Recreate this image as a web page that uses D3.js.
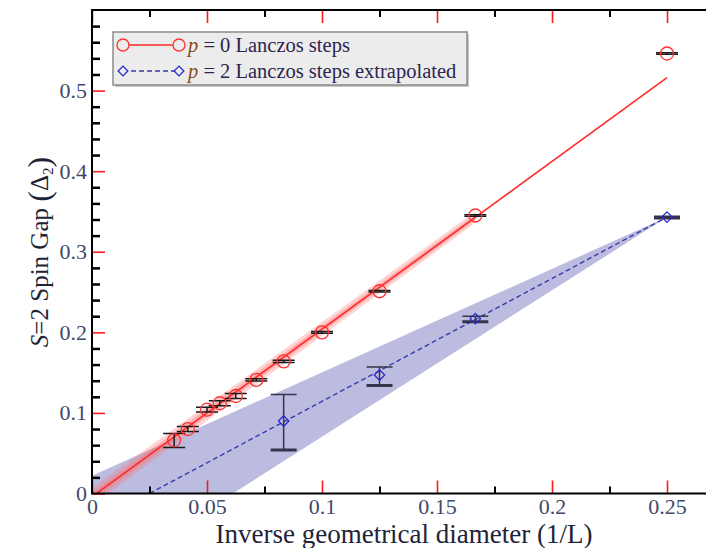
<!DOCTYPE html>
<html>
<head>
<meta charset="utf-8">
<script src="https://cdn.jsdelivr.net/npm/d3@7/dist/d3.min.js"></script>
<style>
body{margin:0;background:#fff;}
svg{display:block;font-family:"Liberation Serif","DejaVu Serif",serif;}
</style>
</head>
<body>
<div id="chart"></div>
<script>
// Data

var invL   = [1/4, 1/6, 1/8, 1/10, 1/12, 1/14, 1/16, 1/18, 1/20, 1/24, 1/28];
var gapP0  = [0.546, 0.345, 0.251, 0.200, 0.164, 0.141, 0.121, 0.112, 0.104, 0.080, 0.066];
var loP0   = [0.545, 0.344, 0.250, 0.199, 0.1625, 0.1395, 0.118, 0.109, 0.101, 0.077, 0.057];
var hiP0   = [0.547, 0.346, 0.252, 0.201, 0.1655, 0.1425, 0.124, 0.115, 0.107, 0.083, 0.0746];

var invLP2 = [1/4, 1/6, 1/8, 1/12];
var gapP2  = [0.343, 0.217, 0.147, 0.090];
var loP2   = [0.342, 0.213, 0.134, 0.054];
var hiP2   = [0.344, 0.220, 0.157, 0.123];

var fitP0X = [0, 0.25],  fitP0Y = [-0.004, 0.516];
var fitP2X = [0.025, 0.25], fitP2Y = [0, 0.343];

var bandP0X = [0, 0.1667], bandP0Lo = [-0.015, 0.336], bandP0Hi = [0.007, 0.350];
var bandP2HiX = [0, 0.25], bandP2Hi = [0.022, 0.343];
var bandP2LoX = [0, 0.0613, 0.25], bandP2Lo = [-0.111, 0, 0.343];

var xMajor = [0, 0.05, 0.1, 0.15, 0.2, 0.25],
	xLabels = ["0", "0.05", "0.1", "0.15", "0.2", "0.25"],
	xMinor = [0.025, 0.075, 0.125, 0.175, 0.225];
var yMajor = [0, 0.1, 0.2, 0.3, 0.4, 0.5],
	yLabels = ["0", "0.1", "0.2", "0.3", "0.4", "0.5"],
	yMinor = d3.range(0.02, 0.6, 0.02).filter(function(v){return Math.abs(v*10-Math.round(v*10))>1e-6});

var legendLabels = [["p", " = 0 Lanczos steps"], ["p", " = 2 Lanczos steps extrapolated"]];

// Layout

var W = 706, H = 548,
	pL = 92, pT = 10, pB = 493.5, pR = 713;

var x = d3.scaleLinear().domain([0, 0.27]).range([pL, pR]);
var y = d3.scaleLinear().domain([0, 0.6]).range([pB, pT]);

var svg = d3.select("#chart").append("svg").attr("width", W).attr("height", H);

svg.append("clipPath").attr("id", "clip").append("rect")
	.attr("x", pL).attr("y", pT).attr("width", pR-pL).attr("height", pB-pT);

var plot = svg.append("g").attr("clip-path", "url(#clip)");

// shaded bands

var upP2 = bandP2HiX.map(function(v,i){return [x(v), y(bandP2Hi[i])]});
var dnP2 = bandP2LoX.map(function(v,i){return [x(v), y(bandP2Lo[i])]}).reverse();
plot.append("path").attr("d", d3.line()(upP2.concat(dnP2)) + "Z")
	.style("fill", "#bcbce0").style("stroke", "none");

var area0 = d3.area()
	.x(function(d){return x(d[0])})
	.y0(function(d){return y(d[1])})
	.y1(function(d){return y(d[2])});

var band0 = bandP0X.map(function(v,i){return [v, bandP0Lo[i], bandP0Hi[i]]});
plot.append("path").datum(band0).attr("d", area0)
	.style("fill", "#ff7070").style("fill-opacity", 0.3);
var band0in = band0.map(function(d){var m=(d[1]+d[2])/2, h=(d[2]-d[1])/4; return [d[0], m-h, m+h]});
plot.append("path").datum(band0in).attr("d", area0)
	.style("fill", "#ff6060").style("fill-opacity", 0.3);

// fit lines

var line = d3.line().x(function(d){return x(d[0])}).y(function(d){return y(d[1])});

plot.append("path").datum(fitP0X.map(function(v,i){return [v, fitP0Y[i]]})).attr("d", line)
	.style("stroke", "#ff2a2a").style("stroke-width", 1.6).style("fill", "none");

plot.append("path").datum(fitP2X.map(function(v,i){return [v, fitP2Y[i]]})).attr("d", line)
	.style("stroke", "#3a3aa8").style("stroke-width", 1.4).style("fill", "none")
	.style("stroke-dasharray", "5,3");

// error bars

function errbars(xs, lo, hi, cap, col, wTop, wBot){
	var g = plot.append("g");
	xs.forEach(function(v,i){
		var cx = x(v);
		g.append("line").attr("x1", cx).attr("x2", cx).attr("y1", y(lo[i])).attr("y2", y(hi[i]))
			.style("stroke", col).style("stroke-width", 1.5);
		g.append("line").attr("x1", cx-cap/2).attr("x2", cx+cap/2).attr("y1", y(hi[i])).attr("y2", y(hi[i]))
			.style("stroke", col).style("stroke-width", wTop);
		g.append("line").attr("x1", cx-cap/2).attr("x2", cx+cap/2).attr("y1", y(lo[i])).attr("y2", y(lo[i]))
			.style("stroke", col).style("stroke-width", wBot);
	});
}
errbars(invL, loP0, hiP0, 22, "#1a1a1a", 1.5, 1.5);
errbars(invLP2, loP2, hiP2, 26, "#33334a", 1.5, 3);

// markers

plot.selectAll(".p0").data(invL).enter().append("circle")
	.attr("class", "p0")
	.attr("cx", function(d){return x(d)})
	.attr("cy", function(d,i){return y(gapP0[i])})
	.attr("r", 6.5)
	.style("fill", "none").style("stroke", "#ff3030").style("stroke-width", 1.3);

var diamond = d3.symbol().type(d3.symbolDiamond2).size(70);
plot.selectAll(".p2").data(invLP2).enter().append("path")
	.attr("class", "p2")
	.attr("d", diamond)
	.attr("transform", function(d,i){return "translate("+x(d)+","+y(gapP2[i])+")"})
	.style("fill", "none").style("stroke", "#2a2acc").style("stroke-width", 1.3);

// axes (ticks inward, red majors, black minors)

var labCol = "#3f4a6a";

function styleAxis(g, col, w){
	g.select(".domain").remove();
	g.selectAll(".tick line").style("stroke", col).style("stroke-width", w);
	g.selectAll(".tick text").style("fill", labCol).style("font-size", "22px")
		.style("font-family", "Liberation Serif, serif");
}

var gx = svg.append("g").attr("transform", "translate(0,"+pB+")")
	.call(d3.axisBottom(x).tickValues(xMajor).tickSize(-13).tickPadding(5)
		.tickFormat(function(d,i){return xLabels[i]}));
styleAxis(gx, "#ff1a1a", 1.6);

svg.append("g").attr("transform", "translate(0,"+pB+")")
	.call(d3.axisBottom(x).tickValues(xMinor).tickSize(-7).tickFormat(""))
	.call(styleAxis, "#000", 2);

svg.append("g").attr("transform", "translate(0,"+pT+")")
	.call(d3.axisTop(x).tickValues(xMajor).tickSize(-13).tickFormat(""))
	.call(styleAxis, "#ff1a1a", 1.6);
svg.append("g").attr("transform", "translate(0,"+pT+")")
	.call(d3.axisTop(x).tickValues(xMinor).tickSize(-7).tickFormat(""))
	.call(styleAxis, "#000", 2);

var gy = svg.append("g").attr("transform", "translate("+pL+",0)")
	.call(d3.axisLeft(y).tickValues(yMajor).tickSize(-13).tickPadding(5)
		.tickFormat(function(d,i){return yLabels[i]}));
styleAxis(gy, "#ff1a1a", 1.6);

svg.append("g").attr("transform", "translate("+pL+",0)")
	.call(d3.axisLeft(y).tickValues(yMinor).tickSize(-8).tickFormat(""))
	.call(styleAxis, "#000", 2.5);

// frame
svg.append("path")
	.attr("d", "M"+pR+","+pT+"H"+pL+"V"+pB+"H"+pR)
	.style("stroke", "#000").style("stroke-width", 2).style("fill", "none");

// axis titles

svg.append("text").attr("x", 404).attr("y", 543).attr("text-anchor", "middle")
	.style("font-size", "27px").style("fill", "#1e2438")
	.text("Inverse geometrical diameter (1/L)");

var yt = svg.append("text").attr("transform", "translate(48,252)rotate(-90)")
	.attr("text-anchor", "middle").style("font-size", "25px").style("fill", "#1e2438");
yt.append("tspan").style("font-style", "italic").text("S");
yt.append("tspan").text("=2 Spin Gap ");
yt.append("tspan").style("font-size", "32px").attr("dy", 2).text("(");
yt.append("tspan").attr("dy", -2).text("\u0394");
yt.append("tspan").style("font-size", "15px").attr("dy", 5).text("2");
yt.append("tspan").style("font-size", "32px").attr("dy", -3).text(")");

// legend

var lg = svg.append("g");
lg.append("rect").attr("x", 115).attr("y", 34).attr("width", 354).attr("height", 53)
	.style("fill", "#c8c8c8");
lg.append("rect").attr("x", 113).attr("y", 32).attr("width", 354).attr("height", 53)
	.style("fill", "#ececec").style("stroke", "#8a8a8a").style("stroke-width", 1.5);

var legY = [45, 71];
lg.append("line").attr("x1", 123).attr("x2", 179).attr("y1", legY[0]).attr("y2", legY[0])
	.style("stroke", "#ff2a2a").style("stroke-width", 1.6);
[123, 179].forEach(function(cx){
	lg.append("circle").attr("cx", cx).attr("cy", legY[0]).attr("r", 6)
		.style("fill", "#ececec").style("stroke", "#ff3030").style("stroke-width", 1.3);
});
lg.append("line").attr("x1", 123).attr("x2", 179).attr("y1", legY[1]).attr("y2", legY[1])
	.style("stroke", "#3a3aa8").style("stroke-width", 1.4).style("stroke-dasharray", "5,3");
[123, 179].forEach(function(cx){
	lg.append("path").attr("d", d3.symbol().type(d3.symbolDiamond2).size(60))
		.attr("transform", "translate("+cx+","+legY[1]+")")
		.style("fill", "#ececec").style("stroke", "#2a2acc").style("stroke-width", 1.3);
});
legendLabels.forEach(function(l,i){
	var t = lg.append("text").attr("x", 188).attr("y", legY[i]+7)
		.style("font-size", "20.5px").style("fill", "#2d2550");
	t.append("tspan").style("font-style", "italic").style("fill", "#8a4a1a").text(l[0]);
	t.append("tspan").text(l[1]);
});
</script>
</body>
</html>
